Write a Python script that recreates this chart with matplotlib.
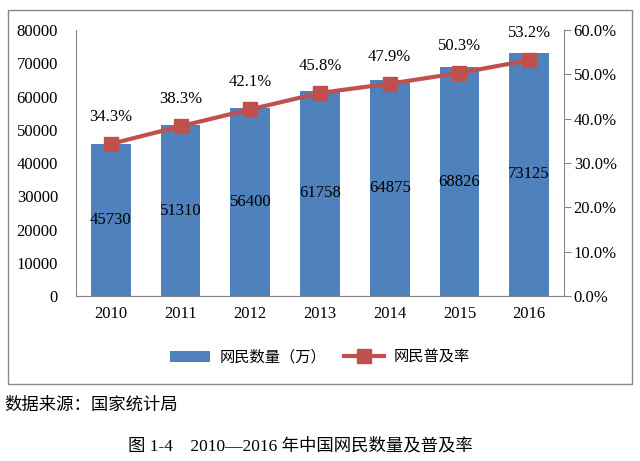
import matplotlib.pyplot as plt
from matplotlib.patches import Rectangle
from matplotlib.ticker import FuncFormatter

years = ['2010', '2011', '2012', '2013', '2014', '2015', '2016']
users = [45730, 51310, 56400, 61758, 64875, 68826, 73125]
rate = [34.3, 38.3, 42.1, 45.8, 47.9, 50.3, 53.2]

serif = ['Liberation Serif', 'Noto Sans CJK SC']
cjk = ['Noto Sans CJK SC', 'DejaVu Sans']

fig = plt.figure(figsize=(6.4, 4.61), dpi=100)
ax = fig.add_axes([76 / 640, 1 - 296 / 461, 488 / 640, 266 / 461])
ax2 = ax.twinx()

x = range(len(years))
bars = ax.bar(x, users, width=0.57, color='#4F81BD', label='网民数量（万）', zorder=2)
line, = ax2.plot(x, rate, color='#C0504D', lw=3, marker='s', ms=9.5,
                 label='网民普及率', zorder=3)

ax.set_xlim(-0.5, len(years) - 0.5)
ax.set_ylim(0, 80000)
ax.set_yticks(range(0, 80001, 10000))
ax2.set_ylim(0, 60)
ax2.set_yticks(range(0, 61, 10))
ax2.yaxis.set_major_formatter(FuncFormatter(lambda v, p: f'{v:.1f}%'))

ax.set_xticks(list(x))
ax.set_xticklabels(years)

for a in (ax, ax2):
    for s in a.spines.values():
        s.set_color('#888888')
    a.spines['top'].set_visible(False)
    for lab in a.get_xticklabels() + a.get_yticklabels():
        lab.set_family(serif)
        lab.set_fontsize(12)
ax.spines['right'].set_visible(False)
ax2.spines['left'].set_visible(False)
ax.tick_params(axis='y', length=0, pad=13)
ax.tick_params(axis='x', length=0, pad=7)
ax2.tick_params(axis='y', length=5, color='#888888', pad=2)

# value labels
for i, v in enumerate(users):
    ax.text(i, v / 2, str(v), ha='center', va='center', family=serif, fontsize=12)
for i, r in enumerate(rate):
    ax2.text(i, r + 4.3, f'{r:.1f}%', ha='center', va='bottom', family=serif, fontsize=12)

leg = fig.legend(handles=[bars, line], loc='center', bbox_to_anchor=(0.5, 1 - 357 / 461),
                 ncol=2, frameon=False, prop={'family': cjk, 'size': 11},
                 handlelength=2.6, handletextpad=0.6, columnspacing=1.2)

# outer frame
fig.patches.append(Rectangle((8 / 640, 1 - 384 / 461), 624 / 640, 374 / 461,
                             transform=fig.transFigure, fill=False,
                             edgecolor='#888888', lw=1))

fig.text(4 / 640, 1 - 405 / 461, '数据来源：国家统计局', ha='left', va='center',
         family=cjk, fontsize=12.5)
fig.text(128 / 640, 1 - 446 / 461, '图 1-4　2010—2016 年中国网民数量及普及率', ha='left',
         va='center', family=serif, fontsize=12.5)

fig.savefig('out.png', dpi=100)
